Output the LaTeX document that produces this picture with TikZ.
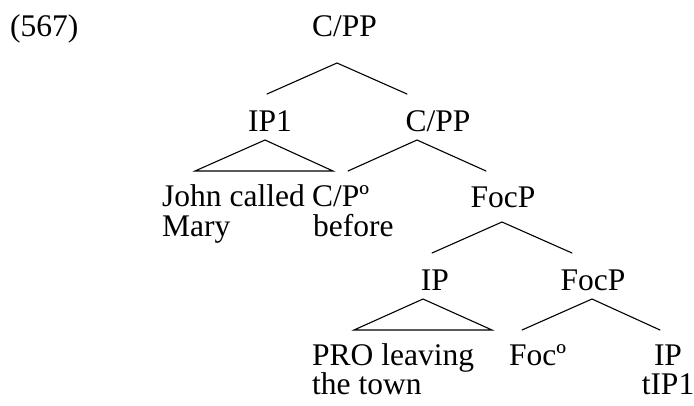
\documentclass[tikz,border=0pt]{standalone}
\usepackage{fontspec}
\setmainfont{Liberation Serif}
\begin{document}
\begin{tikzpicture}[x=1pt,y=-1pt,
  lbl/.style={inner sep=0pt, font=\fontsize{31.5}{30}\selectfont},
  edge/.style={line width=1.1pt, line cap=round, line join=miter}]
\useasboundingbox (0,0) rectangle (694,405);
% labels
\node[lbl,anchor=base west] (ex) at (10,36) {(567)};
\node[lbl,anchor=base] (cpp1) at (344.5,36) {C/PP};
\node[lbl,anchor=base] (ip1) at (270,131) {IP1};
\node[lbl,anchor=base] (cpp2) at (438,131) {C/PP};
\node[lbl,anchor=base west] (john) at (162,206) {John called};
\node[lbl,anchor=base west] (mary) at (162,236) {Mary};
\node[lbl,anchor=base west] (cp0) at (312,206) {C/Pº};
\node[lbl,anchor=base west] (before) at (313,236) {before};
\node[lbl,anchor=base] (focp1) at (503,207) {FocP};
\node[lbl,anchor=base] (ip) at (435,290) {IP};
\node[lbl,anchor=base] (focp2) at (593,290) {FocP};
\node[lbl,anchor=base west] (pro) at (312,365) {PRO leaving};
\node[lbl,anchor=base west] (town) at (312,394) {the town};
\node[lbl,anchor=base west] (foc0) at (509,365) {Focº};
\node[lbl,anchor=base] (ip3) at (668,365) {IP};
\node[lbl,anchor=base] (tip) at (668,394) {tIP1};
% branch points
\coordinate (a1) at (337,63);
\coordinate (a1l) at (267,94);
\coordinate (a1r) at (407,94);
\coordinate (t1) at (265,140);
\coordinate (t1l) at (195,171);
\coordinate (t1r) at (333,171);
\coordinate (a2) at (417,140);
\coordinate (a2l) at (348,171);
\coordinate (a2r) at (486,171);
\coordinate (a3) at (502,222);
\coordinate (a3l) at (432,253);
\coordinate (a3r) at (572,253);
\coordinate (t2) at (423,299);
\coordinate (t2l) at (354,330);
\coordinate (t2r) at (492,330);
\coordinate (a4) at (592,299);
\coordinate (a4l) at (522,330);
\coordinate (a4r) at (660,330);
% branches
\draw[edge] (a1l) -- (a1) -- (a1r);
\draw[edge] (t1) -- (t1l) -- (t1r) -- cycle;
\draw[edge] (a2l) -- (a2) -- (a2r);
\draw[edge] (a3l) -- (a3) -- (a3r);
\draw[edge] (t2) -- (t2l) -- (t2r) -- cycle;
\draw[edge] (a4l) -- (a4) -- (a4r);
\end{tikzpicture}
\end{document}
